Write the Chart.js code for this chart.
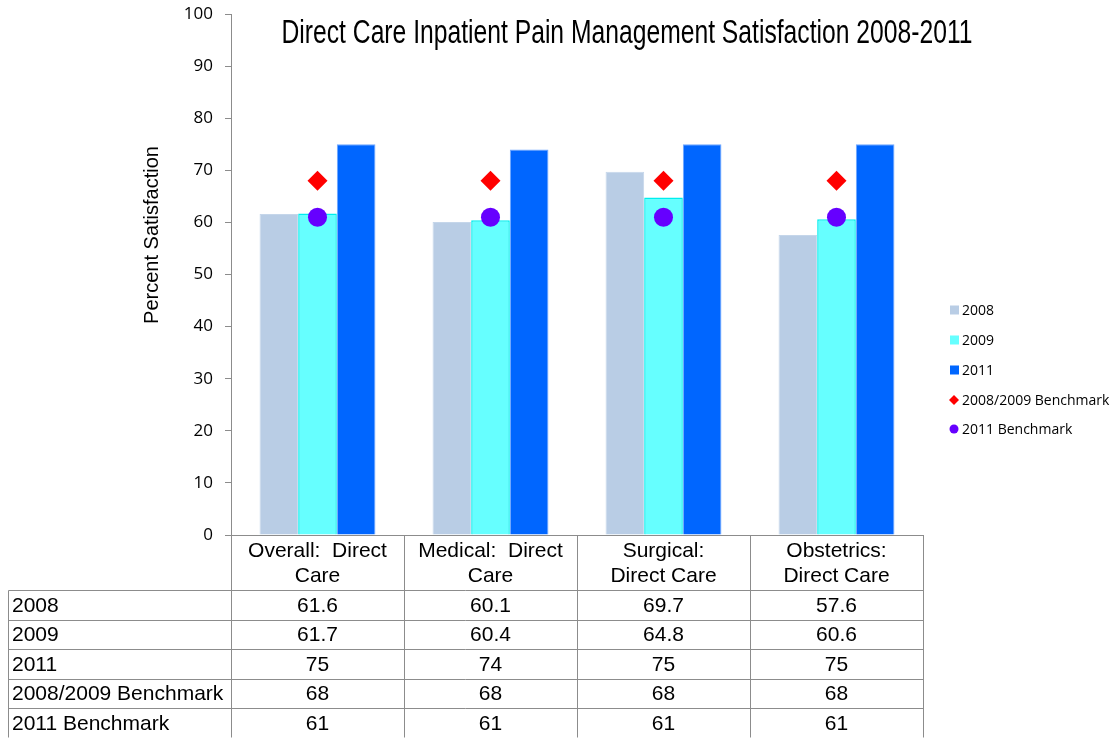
<!DOCTYPE html>
<html>
<head>
<meta charset="utf-8">
<script src="https://cdn.jsdelivr.net/npm/chart.js@4.4.1/dist/chart.umd.min.js"></script>
<style>
  html, body { margin: 0; padding: 0; background: #fff; }
  #wrap { width: 1115px; height: 738px; }
</style>
</head>
<body>
<div id="wrap"><canvas id="id_chart" width="1115" height="738"></canvas></div>
<script>
(function() {
    "use strict";

    var categories = [
        ["Overall:  Direct", "Care"],
        ["Medical:  Direct", "Care"],
        ["Surgical:", "Direct Care"],
        ["Obstetrics:", "Direct Care"]
    ];
    var values2008 = [61.6, 60.1, 69.7, 57.6];
    var values2009 = [61.7, 60.4, 64.8, 60.6];
    var values2011 = [75, 74, 75, 75];
    var bench0809 = [68, 68, 68, 68];
    var bench2011 = [61, 61, 61, 61];
    var yTicks = [0, 10, 20, 30, 40, 50, 60, 70, 80, 90, 100];
    var chartTitle = "Direct Care Inpatient Pain Management Satisfaction 2008-2011";
    var yTitle = "Percent Satisfaction";

    var gridGray = "#8c8c8c";
    var tableFont = "21px 'Liberation Sans', Arial, sans-serif";

    // title, axis title, legend and data table under the plot
    var extrasPlugin = {
        id: "extras",
        afterDraw: function(chart) {
            var ctx = chart.ctx;
            var area = chart.chartArea;
            var xs = chart.scales.x;
            var n = chart.data.labels.length;
            var colW = (area.right - area.left) / n;

            ctx.save();

            // title, squeezed to look like a narrow face
            ctx.fillStyle = "#000";
            ctx.font = "34px 'Liberation Sans', Arial, sans-serif";
            ctx.textAlign = "center";
            ctx.textBaseline = "middle";
            var tw = ctx.measureText(chartTitle).width;
            var sx = 691 / tw;
            ctx.save();
            ctx.translate(627, 34);
            ctx.scale(sx, 1);
            ctx.fillText(chartTitle, 0, 0);
            ctx.restore();

            // y axis title
            ctx.save();
            ctx.font = "20px 'Liberation Sans', Arial, sans-serif";
            ctx.translate(152, 235);
            ctx.rotate(-Math.PI / 2);
            ctx.fillText(yTitle, 0, 0);
            ctx.restore();

            // legend
            var legY = [310, 340, 370, 400, 429];
            ctx.font = "14px 'Open Sans', sans-serif";
            ctx.textAlign = "left";
            chart.data.datasets.forEach(function(ds, i) {
                var y = legY[i];
                ctx.fillStyle = ds.legendColor;
                if (ds.type === "line" && ds.pointStyle === "rectRot") {
                    ctx.beginPath();
                    ctx.moveTo(954, y - 5);
                    ctx.lineTo(959, y);
                    ctx.lineTo(954, y + 5);
                    ctx.lineTo(949, y);
                    ctx.closePath();
                    ctx.fill();
                } else if (ds.type === "line") {
                    ctx.beginPath();
                    ctx.arc(954, y, 4.5, 0, Math.PI * 2);
                    ctx.fill();
                } else {
                    ctx.fillRect(950, y - 4.5, 9, 9);
                }
                ctx.fillStyle = "#000";
                ctx.fillText(ds.label, 962, y + 1);
            });

            // data table
            var top = area.bottom;
            var headBottom = 590;
            var rowH = (737.5 - headBottom) / chart.data.datasets.length;
            var tableLeft = 8.5;
            ctx.strokeStyle = gridGray;
            ctx.lineWidth = 1;
            ctx.beginPath();
            for (var c = 0; c <= n; c++) {
                var xl = Math.round(area.left + c * colW) + 0.5;
                ctx.moveTo(xl, top);
                ctx.lineTo(xl, 737.5);
            }
            ctx.moveTo(area.left, top + 0.5);
            ctx.lineTo(area.right, top + 0.5);
            for (var r = 0; r <= chart.data.datasets.length; r++) {
                var yl = Math.round(headBottom + r * rowH) + 0.5;
                ctx.moveTo(tableLeft, yl);
                ctx.lineTo(area.right, yl);
            }
            ctx.moveTo(tableLeft, headBottom + 0.5);
            ctx.lineTo(tableLeft, 737.5);
            ctx.stroke();

            ctx.fillStyle = "#000";
            ctx.font = tableFont;
            ctx.textBaseline = "middle";
            ctx.textAlign = "center";
            chart.data.labels.forEach(function(lbl, i) {
                var cx = xs.getPixelForValue(i);
                ctx.fillText(lbl[0], cx, 551);
                ctx.fillText(lbl[1], cx, 576);
            });
            chart.data.datasets.forEach(function(ds, r) {
                var cy = headBottom + r * rowH + rowH / 2 + 1;
                ctx.textAlign = "left";
                ctx.fillText(ds.label, 12, cy);
                ctx.textAlign = "center";
                ds.data.forEach(function(v, i) {
                    ctx.fillText(String(v), xs.getPixelForValue(i), cy);
                });
            });

            ctx.restore();
        }
    };

    var ctx = document.getElementById("id_chart").getContext("2d");
    var chart = new Chart(ctx, {
        type: "bar",
        data: {
            labels: categories,
            datasets: [
                { label: "2008", data: values2008, backgroundColor: "#b9cde5", borderColor: "#c5d6ea", borderWidth: 1, legendColor: "#b9cde5", order: 2 },
                { label: "2009", data: values2009, backgroundColor: "#66ffff", borderColor: "#00eeee", borderWidth: 1.5, legendColor: "#66ffff", order: 2 },
                { label: "2011", data: values2011, backgroundColor: "#0066ff", borderColor: "#6fa6ff", borderWidth: 1, legendColor: "#0066ff", order: 2 },
                { label: "2008/2009 Benchmark", type: "line", data: bench0809, showLine: false, pointStyle: "rectRot", pointRadius: 10, pointBackgroundColor: "#ff0000", pointBorderWidth: 0, legendColor: "#ff0000", order: 1 },
                { label: "2011 Benchmark", type: "line", data: bench2011, showLine: false, pointStyle: "circle", pointRadius: 9.5, pointBackgroundColor: "#6600ff", pointBorderWidth: 0, legendColor: "#6600ff", order: 0 }
            ]
        },
        options: {
            responsive: false,
            animation: false,
            events: [],
            layout: { padding: { left: 142, right: 192, top: 14, bottom: 203 } },
            datasets: { bar: { categoryPercentage: 0.67, barPercentage: 1.0 } },
            plugins: {
                legend: { display: false },
                title: { display: false },
                tooltip: { enabled: false }
            },
            scales: {
                x: {
                    grid: { display: false },
                    border: { display: false },
                    ticks: { display: false },
                    afterFit: function(s) { s.height = 0; s.paddingLeft = 0; s.paddingRight = 0; }
                },
                y: {
                    min: 0,
                    max: 100,
                    afterBuildTicks: function(s) { s.ticks = yTicks.map(function(v) { return { value: v }; }); },
                    afterFit: function(s) { s.width = 89; s.paddingTop = 0; s.paddingBottom = 0; },
                    grid: { drawOnChartArea: false, drawTicks: true, tickLength: 6, color: gridGray },
                    border: { display: true, color: gridGray },
                    ticks: { color: "#000", padding: 12, font: { family: "'Open Sans', sans-serif", size: 17 } },
                    title: { display: false }
                }
            }
        },
        plugins: [extrasPlugin]
    });
})();
</script>
</body>
</html>
